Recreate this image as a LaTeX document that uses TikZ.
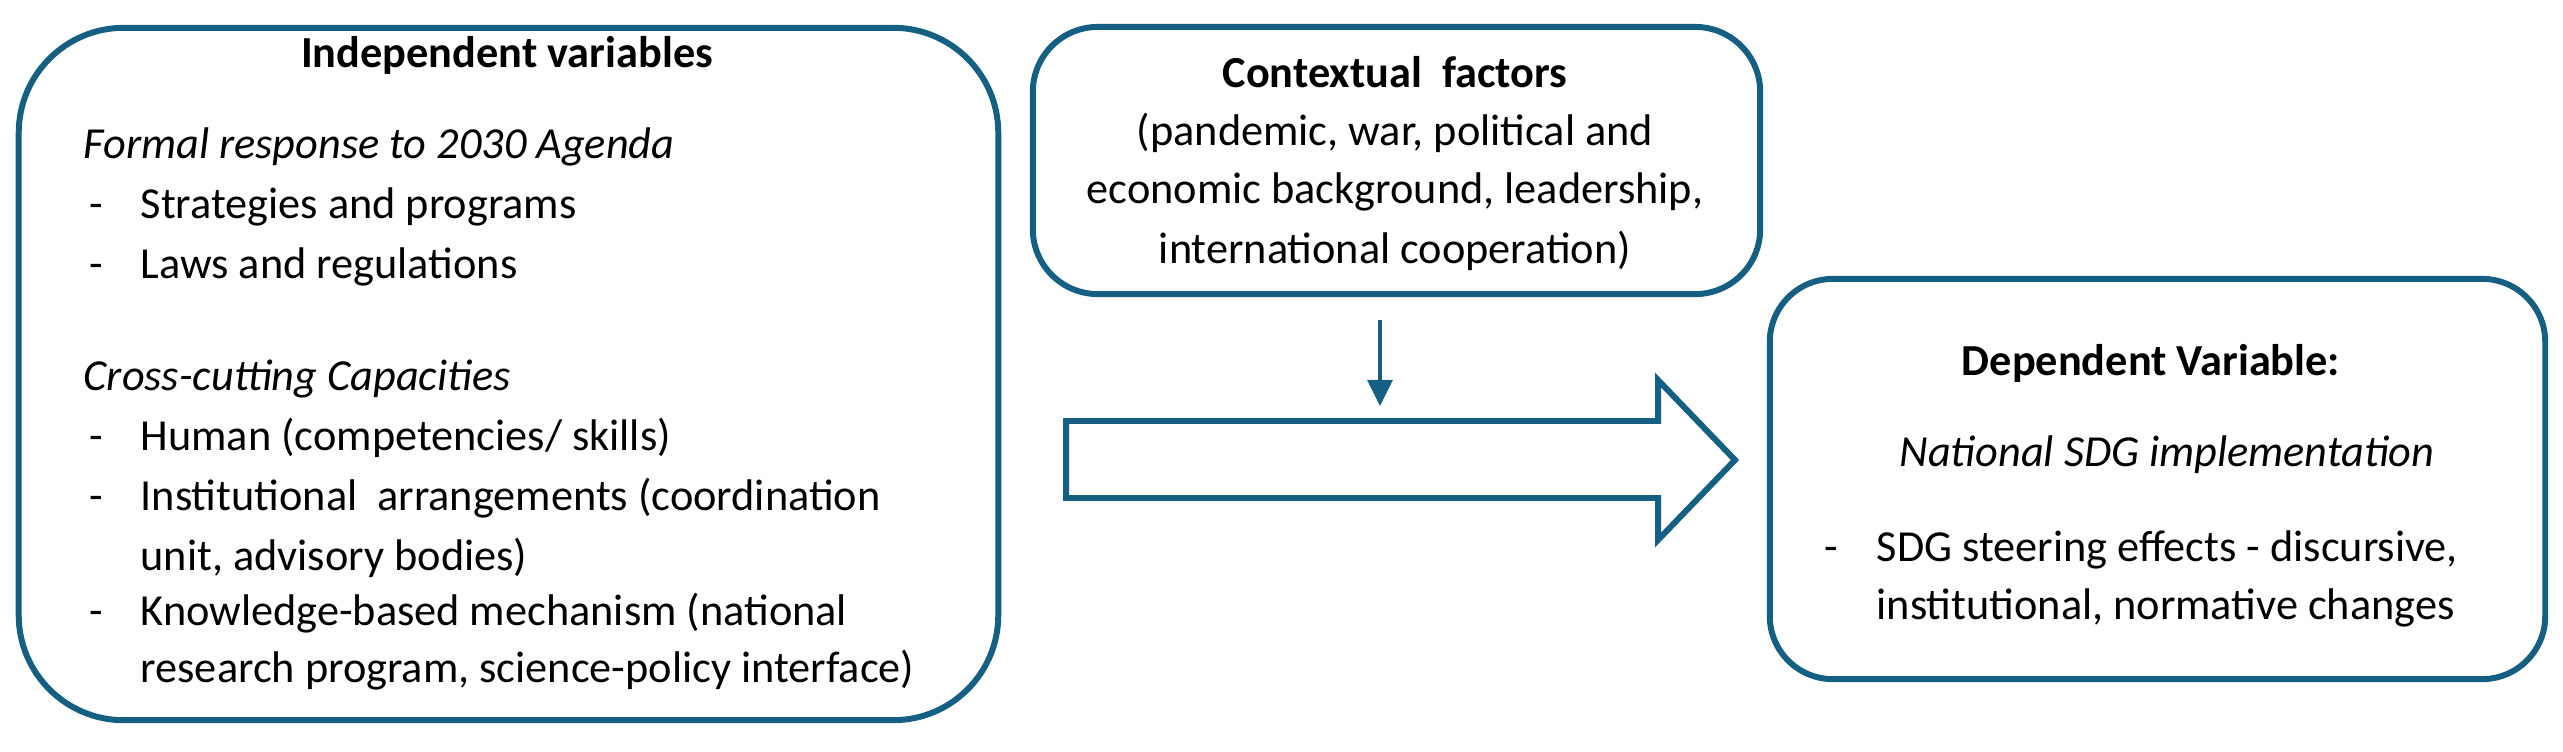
\documentclass[tikz,border=0pt]{standalone}
\usepackage{fontspec}
\setmainfont{Carlito}
\usetikzlibrary{arrows.meta}
\definecolor{sdgblue}{HTML}{156082}
\tikzset{
  panel/.style={
    draw = sdgblue,
    line width = 1.7pt,
    inner sep = 0pt
  },
  headline/.style={
    font = \fontsize{12.6}{15}\selectfont\bfseries,
    anchor = base,
    inner sep = 0pt
  },
  subline/.style={
    font = \fontsize{12.6}{15}\selectfont\itshape,
    inner sep = 0pt
  },
  itemline/.style={
    font = \fontsize{12.6}{15}\selectfont,
    anchor = base west,
    inner sep = 0pt
  },
  flowarrow/.style={
    draw = sdgblue,
    line width = 1.7pt,
    line join = miter
  },
  feed/.style={
    draw = sdgblue,
    line width = 0.9pt,
    -{Triangle[width=0.25cm,length=0.26cm]}
  }
}
\begin{document}
\begin{tikzpicture}[x=0.01cm,y=-0.01cm]
  \useasboundingbox (0,0) rectangle (2563,751);
  % panels
  \node[panel, rounded corners=1.05cm, minimum width=9.79cm, minimum height=6.92cm] (indep) at (508.5,374) {};
  \node[panel, rounded corners=0.65cm, minimum width=7.27cm, minimum height=2.67cm] (ctx) at (1396.5,160.5) {};
  \node[panel, rounded corners=0.63cm, minimum width=7.75cm, minimum height=4.00cm] (dep) at (2157.5,479) {};
  % independent variables
  \node[headline] (indeptitle) at (507,67) {Independent variables};
  \node[subline, anchor=base west] (formal) at (83,158) {Formal response to 2030 Agenda};
  \node[subline, anchor=base west] (cross) at (83,390) {Cross-cutting Capacities};
  \foreach \yy [count=\i] in {218,278,450,510,625}
    \node[itemline] (dash\i) at (89,\yy) {-};
  \foreach \yy/\txt [count=\i] in {218/{Strategies and programs},
      278/{Laws and regulations},
      450/{Human (competencies/ skills)},
      510/{Institutional\ \ arrangements (coordination},
      570/{unit, advisory bodies)},
      625/{Knowledge-based mechanism (national},
      682/{research program, science-policy interface)}}
    \node[itemline] (item\i) at (140,\yy) {\txt};
  % contextual factors
  \node[headline] (ctxtitle) at (1395,87) {Contextual\ \ factors};
  \foreach \yy/\txt [count=\i] in {145/{(pandemic, war, political and},
      203/{economic background, leadership,},
      263/{international cooperation)}}
    \node[itemline, anchor=base] (ctx\i) at (1395,\yy) {\txt};
  % dependent variable
  \node[headline] (deptitle) at (2151,375) {Dependent Variable:};
  \node[subline, anchor=base] (national) at (2167,466) {National SDG implementation};
  \node[itemline] (depdash) at (1824,561) {-};
  \node[itemline] (dep1) at (1876,561) {SDG steering effects - discursive,};
  \node[itemline] (dep2) at (1876,619) {institutional, normative changes};
  % flow
  \draw[flowarrow] (1066,421) -- (1658,421) -- (1658,380) -- (1735,460)
    -- (1658,540) -- (1658,498) -- (1066,498) -- cycle;
  \coordinate (ctxout) at (1380,320);
  \coordinate (flowin) at (1380,406);
  \draw[feed] (ctxout) -- (flowin);
\end{tikzpicture}
\end{document}
